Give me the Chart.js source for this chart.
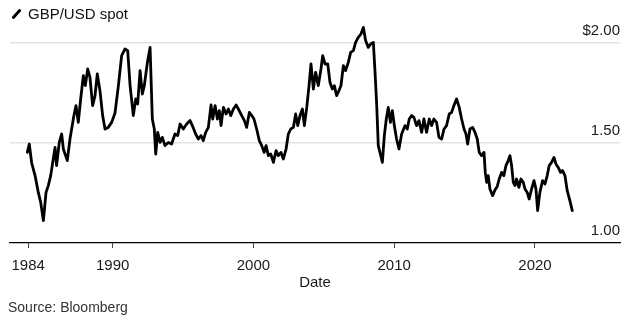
<!DOCTYPE html>
<html>
<head>
<meta charset="utf-8">
<script src="https://cdn.jsdelivr.net/npm/chart.js@4/dist/chart.umd.min.js"></script>
<style>
  html, body { margin: 0; padding: 0; background: #fff; }
  #wrap { position: relative; width: 630px; height: 322px; overflow: hidden; font-family: "Liberation Sans", Arial, sans-serif; }
  #c { position: absolute; left: 0; top: 0; }
  #legend { position: absolute; left: 12px; top: 5px; font-size: 15px; color: #111; line-height: 18px; white-space: nowrap; }
  #legend .icon { display: inline-block; width: 3px; height: 12px; background: #000; transform: rotate(42deg); margin: 0 10px 0 3px; vertical-align: -1px; border-radius: 1px; }
  #source { position: absolute; left: 8px; top: 298px; font-size: 14px; color: #333; line-height: 18px; white-space: nowrap; }
</style>
</head>
<body>
<div id="wrap">
  <canvas id="c" width="630" height="322"></canvas>
  <div id="legend"><span class="icon"></span>GBP/USD spot</div>
  <div id="source">Source: Bloomberg</div>
</div>
<script>
// ---- data ----
const dates = [
  1983.94,1984.08,1984.25,1984.49,1984.72,1984.89,1985.08,1985.27,1985.43,1985.60,
  1985.74,1985.91,1986.02,1986.21,1986.38,1986.50,1986.78,1986.97,1987.25,1987.40,
  1987.56,1987.73,1987.92,1988.06,1988.23,1988.39,1988.58,1988.75,1988.91,1989.10,
  1989.29,1989.46,1989.69,1989.93,1990.17,1990.41,1990.64,1990.88,1991.07,1991.24,
  1991.47,1991.64,1991.78,1991.95,1992.11,1992.25,1992.47,1992.66,1992.82,1992.96,
  1993.06,1993.20,1993.37,1993.53,1993.72,1993.96,1994.19,1994.43,1994.62,1994.79,
  1995.02,1995.26,1995.50,1995.66,1995.90,1996.09,1996.28,1996.44,1996.61,1996.80,
  1996.99,1997.11,1997.28,1997.44,1997.58,1997.70,1997.87,1998.06,1998.22,1998.39,
  1998.58,1998.77,1998.93,1999.17,1999.36,1999.52,1999.71,1999.88,2000.04,2000.23,
  2000.42,2000.59,2000.76,2000.90,2001.06,2001.23,2001.42,2001.61,2001.77,2001.96,
  2002.13,2002.32,2002.48,2002.65,2002.84,2003.00,2003.15,2003.31,2003.48,2003.62,
  2003.79,2003.95,2004.09,2004.26,2004.42,2004.61,2004.80,2004.92,2005.09,2005.28,
  2005.44,2005.61,2005.75,2005.91,2006.08,2006.22,2006.39,2006.55,2006.74,2006.91,
  2007.10,2007.26,2007.45,2007.64,2007.81,2007.97,2008.16,2008.33,2008.52,2008.64,
  2008.76,2008.87,2008.99,2009.16,2009.30,2009.44,2009.58,2009.73,2009.87,2010.01,
  2010.17,2010.34,2010.53,2010.77,2010.93,2011.07,2011.24,2011.40,2011.59,2011.76,
  2011.95,2012.11,2012.30,2012.49,2012.66,2012.82,2013.01,2013.18,2013.37,2013.54,
  2013.72,2013.91,2014.08,2014.24,2014.43,2014.62,2014.79,2014.96,2015.10,2015.22,
  2015.38,2015.57,2015.74,2015.90,2016.04,2016.21,2016.38,2016.47,2016.57,2016.68,
  2016.80,2016.99,2017.16,2017.32,2017.46,2017.63,2017.79,2017.94,2018.10,2018.22,
  2018.34,2018.46,2018.58,2018.69,2018.86,2019.00,2019.17,2019.29,2019.45,2019.59,
  2019.76,2019.93,2020.07,2020.19,2020.35,2020.54,2020.71,2020.87,2021.01,2021.18,
  2021.35,2021.49,2021.65,2021.82,2021.96,2022.13,2022.29,2022.48,2022.65
];
const gbpusd = [
  1.453,1.495,1.400,1.337,1.253,1.203,1.112,1.253,1.287,1.337,
  1.400,1.478,1.387,1.503,1.545,1.470,1.412,1.520,1.637,1.687,
  1.603,1.720,1.837,1.787,1.870,1.828,1.687,1.737,1.845,1.762,
  1.637,1.570,1.578,1.603,1.650,1.787,1.937,1.970,1.962,1.787,
  1.637,1.720,1.695,1.862,1.745,1.787,1.903,1.978,1.620,1.570,
  1.445,1.553,1.503,1.528,1.487,1.503,1.495,1.545,1.537,1.595,
  1.570,1.595,1.612,1.587,1.545,1.520,1.537,1.512,1.553,1.578,
  1.690,1.620,1.687,1.620,1.662,1.587,1.678,1.645,1.670,1.637,
  1.670,1.690,1.670,1.637,1.612,1.578,1.653,1.637,1.620,1.570,
  1.512,1.487,1.453,1.487,1.437,1.445,1.403,1.462,1.437,1.453,
  1.420,1.470,1.545,1.570,1.578,1.645,1.587,1.637,1.670,1.587,
  1.678,1.787,1.895,1.770,1.853,1.787,1.870,1.937,1.895,1.895,
  1.803,1.770,1.787,1.737,1.762,1.787,1.887,1.862,1.903,1.953,
  1.962,2.003,2.028,2.045,2.078,2.012,1.978,1.995,2.003,1.853,
  1.687,1.487,1.453,1.403,1.537,1.620,1.678,1.603,1.662,1.587,
  1.520,1.470,1.545,1.587,1.570,1.620,1.637,1.628,1.587,1.612,
  1.553,1.620,1.553,1.620,1.587,1.620,1.603,1.528,1.520,1.570,
  1.587,1.645,1.653,1.687,1.720,1.678,1.620,1.570,1.545,1.495,
  1.570,1.578,1.553,1.520,1.453,1.437,1.453,1.353,1.303,1.337,
  1.270,1.237,1.265,1.283,1.320,1.353,1.337,1.387,1.412,1.437,
  1.387,1.303,1.287,1.320,1.278,1.320,1.303,1.270,1.253,1.220,
  1.270,1.312,1.270,1.162,1.253,1.312,1.295,1.337,1.387,1.403,
  1.428,1.395,1.378,1.353,1.362,1.337,1.262,1.212,1.162
];
const xTicks = [1984, 1990, 2000, 2010, 2020];
const yTicks = [1.0, 1.5, 2.0];
const yTickLabels = ['1.00', '1.50', '$2.00'];

Chart.defaults.font.family = '"Liberation Sans", Arial, sans-serif';
Chart.defaults.font.size = 15;
Chart.defaults.color = '#1a1a1a';

const points = dates.map((d, i) => ({ x: d, y: gbpusd[i] }));

new Chart(document.getElementById('c'), {
  type: 'line',
  data: {
    datasets: [{
      label: 'GBP/USD spot',
      data: points,
      borderColor: '#000',
      borderWidth: 2.8,
      pointRadius: 0,
      tension: 0,
      fill: false,
      borderJoinStyle: 'round',
      borderCapStyle: 'round'
    }]
  },
  options: {
    responsive: false,
    animation: false,
    events: [],
    layout: { padding: { left: 10, right: 10, top: 23, bottom: 30 } },
    plugins: { legend: { display: false }, tooltip: { enabled: false } },
    scales: {
      x: {
        type: 'linear',
        min: 1982.71,
        max: 2026.04,
        afterBuildTicks: (axis) => { axis.ticks = xTicks.map(v => ({ value: v })); },
        afterFit: (axis) => { axis.height = 49; },
        ticks: { callback: (v) => String(v), padding: 9, maxRotation: 0, autoSkip: false, color: '#1a1a1a' },
        grid: { drawOnChartArea: false, drawTicks: true, tickLength: 5, tickColor: '#444', tickWidth: 1 },
        border: { display: true, color: '#000', width: 1.2 },
        title: { display: true, text: 'Date', color: '#1a1a1a', font: { size: 15 }, padding: { top: 1, bottom: 0 } }
      },
      y: {
        type: 'linear',
        position: 'right',
        min: 1.0,
        max: 2.1,
        afterBuildTicks: (axis) => { axis.ticks = yTicks.map(v => ({ value: v })); },
        ticks: {
          mirror: true,
          padding: 0,
          labelOffset: -12,
          color: '#1a1a1a',
          callback: (v) => { const i = yTicks.indexOf(v); return i >= 0 ? yTickLabels[i] : ''; }
        },
        grid: {
          drawTicks: false,
          color: (ctx) => (ctx.tick && ctx.tick.value === 1.0) ? 'rgba(0,0,0,0)' : '#e3e3e3',
          lineWidth: 1.5
        },
        border: { display: false }
      }
    }
  }
});
</script>
</body>
</html>
